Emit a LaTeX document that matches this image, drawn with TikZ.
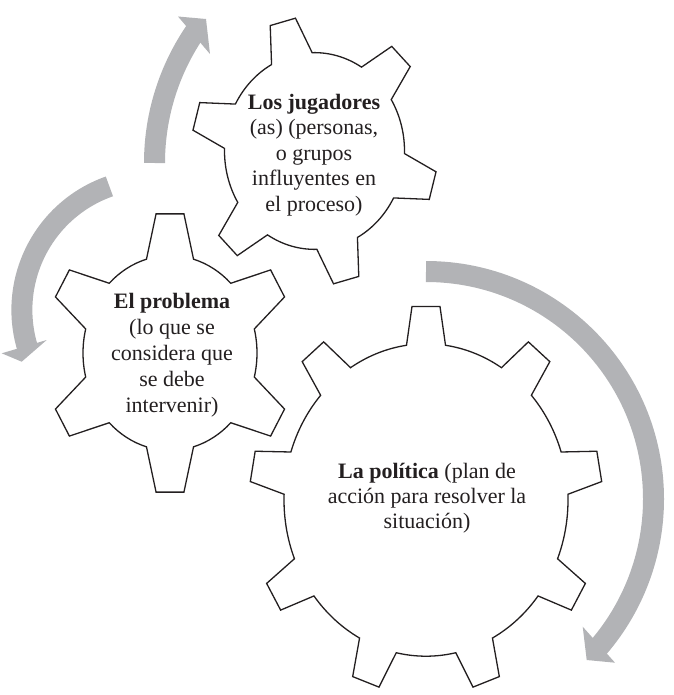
\documentclass[tikz,border=0pt]{standalone}
\usepackage{fontspec}
\setmainfont{Liberation Serif}
\definecolor{arrowgray}{RGB}{178,179,182}
\definecolor{inkc}{RGB}{35,31,32}
% #1 cx, #2 cy, #3 yscale, #4 teeth, #5 first tooth angle, #6 tip radius, #7 root radius, #8 tip half-angle, #9 root half-angle
\newcommand{\geardraw}[9]{%
  \begin{scope}[shift={(#1,#2)}, yscale=-#3]
    \draw[gearline] ({#5-#8}:#6)
      \foreach \k in {1,...,#4}{
        -- ({#5+(\k-1)*360/#4+#8}:#6)
        -- ({#5+(\k-1)*360/#4+#9}:#7)
        arc[start angle={#5+(\k-1)*360/#4+#9}, end angle={#5+\k*360/#4-#9}, radius=#7]
        -- ({#5+\k*360/#4-#8}:#6)
      } -- cycle;
  \end{scope}}
\tikzset{
  gearline/.style={draw=inkc, line width=1.3pt, fill=white, line join=miter},
  band/.style={draw=arrowgray, line width=21pt},
  headfill/.style={fill=arrowgray},
  lbl/.style={text=inkc, inner sep=0pt, align=center},
}
\begin{document}
\begin{tikzpicture}[x=1pt, y=1pt]
\begin{scope}[yscale=-1]
\useasboundingbox (0,0) rectangle (673,695);

% arrows
\coordinate (a1s) at (154.5,163);
\draw[band] (a1s) arc[start angle=180, end angle=215, radius=232.9];
\coordinate (h1a) at (178,16.5);
\coordinate (h1t) at (206,19);
\coordinate (h1b) at (210,54);
\fill[headfill] (h1a) -- (h1t) -- (h1b) -- cycle;

\coordinate (a2s) at (109.4,186.4);
\draw[band] (a2s) arc[start angle=250.6, end angle=163, radius=131];
\coordinate (h2a) at (1.7,353.3);
\coordinate (h2t) at (21.7,361.7);
\coordinate (h2b) at (46.7,340);
\fill[headfill] (h2a) -- (h2t) -- (h2b) -- cycle;

\coordinate (a3s) at (426,271.5);
\draw[band] (a3s) arc[start angle=-90, end angle=42, radius=227.5];
\coordinate (h3a) at (582.7,626.7);
\coordinate (h3t) at (586.7,660);
\coordinate (h3b) at (615,662.7);
\fill[headfill] (h3a) -- (h3t) -- (h3b) -- cycle;

% gears
\geardraw{314.5}{151}{1.093}{6}{105}{123}{90}{6.1}{13.5}
\geardraw{170}{353}{1.12}{6}{90}{125}{87}{6.4}{15.7}
\geardraw{426}{500}{1.1}{9}{90}{176.5}{142}{4.55}{7.9}

% texts
\node[lbl, font=\fontsize{22}{25.5}\selectfont] (t1) at (314,155)
  {\textbf{Los jugadores}\\(as) (personas,\\o grupos\\influyentes en\\el proceso)};
\node[lbl, font=\fontsize{22}{26}\selectfont] (t2) at (172,355)
  {\textbf{El problema}\\(lo que se\\considera que\\se debe\\intervenir)};
\node[lbl, font=\fontsize{22}{25}\selectfont] (t3) at (427,498)
  {\textbf{La política} (plan de\\acción para resolver la\\situación)};
\end{scope}
\end{tikzpicture}
\end{document}
